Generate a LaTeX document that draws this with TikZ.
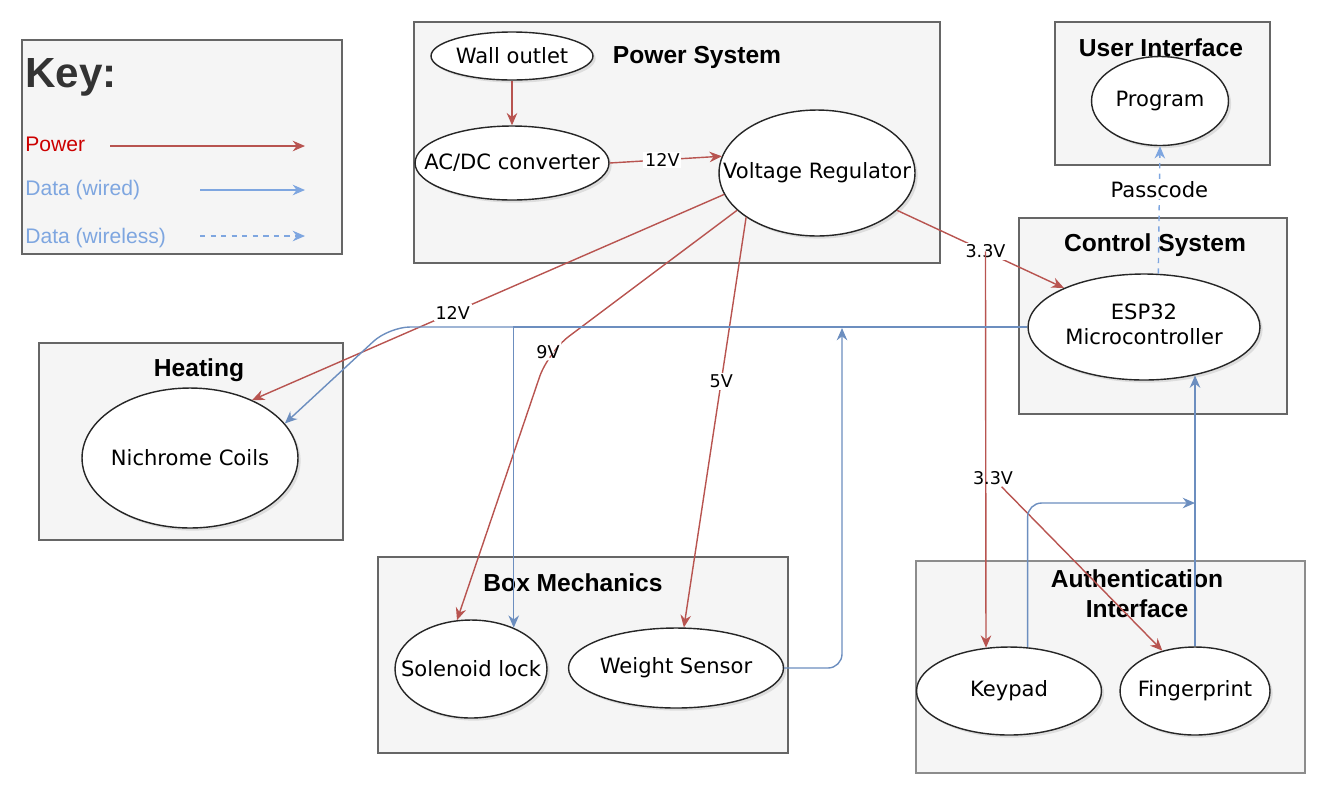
\documentclass[tikz,border=0pt]{standalone}
\usepackage{fontspec}
\setmainfont{Liberation Sans}
\newfontfamily\partfont{DejaVu Sans}
\usetikzlibrary{shapes.geometric,arrows.meta,shadows}

\definecolor{pwrred}{HTML}{B85450}
\definecolor{datablue}{HTML}{6C8EBF}
\definecolor{keyred}{HTML}{CC0000}
\definecolor{keyblue}{HTML}{7EA6E0}
\definecolor{keydark}{HTML}{333333}
\definecolor{grpfill}{HTML}{F5F5F5}
\definecolor{grpline}{HTML}{666666}

\newcommand{\ctext}[1]{\makebox[0pt]{#1}}

\tikzset{
  grp/.style={rectangle, draw=grpline, fill=grpfill, line width=0.8pt, inner sep=0pt},
  part/.style={ellipse, draw=black!85, fill=white, line width=0.8pt, inner sep=0pt,
    font=\partfont\fontsize{12}{14}\selectfont,
    drop shadow={opacity=0.2, shadow xshift=1.5pt, shadow yshift=-1.5pt}},
  title/.style={font=\bfseries\fontsize{14}{17}\selectfont, align=center, inner sep=0pt},
  keyitem/.style={anchor=west, inner sep=0pt, font=\fontsize{12}{14}\selectfont},
  pwr/.style={draw=pwrred, line width=0.8pt, -{Stealth[length=7pt,width=6pt]}},
  data/.style={draw=datablue, line width=0.8pt, -{Stealth[length=7pt,width=6pt]}},
  lbl/.style={font=\partfont\fontsize{10}{12}\selectfont, fill=white, inner sep=1pt},
}

\begin{document}
\begin{tikzpicture}[x=0.02cm, y=-0.02cm]
\useasboundingbox (0,0) rectangle (1337,802);

% group boxes
\node[grp, minimum width=6.4cm, minimum height=4.28cm] (keybox) at (182,147) {};
\node[grp, minimum width=10.52cm, minimum height=4.82cm] (pwrbox) at (677,142.5) {};
\node[grp, minimum width=4.3cm, minimum height=2.86cm] (uibox) at (1162.5,93.5) {};
\node[grp, minimum width=5.36cm, minimum height=3.92cm] (ctrlbox) at (1153,316) {};
\node[grp, minimum width=6.08cm, minimum height=3.94cm] (heatbox) at (191,441.5) {};
\node[grp, minimum width=8.2cm, minimum height=3.92cm] (mechbox) at (583,655) {};
\node[grp, draw=black!45, minimum width=7.78cm, minimum height=4.24cm] (authbox) at (1110.5,667) {};

% key
\node[anchor=west, inner sep=0pt, text=keydark, font=\bfseries\fontsize{24}{28}\selectfont] (keyttl) at (25,77) {Key:};
\node[keyitem, text=keyred] (kpow) at (25,144) {Power};
\node[keyitem, text=keyblue] (kwire) at (25,190) {Data (wired)};
\node[keyitem, text=keyblue] (kwless) at (25,238) {Data (wireless)};
\coordinate (kpow0) at (110,146);  \coordinate (kpow1) at (305,146);
\coordinate (kwire0) at (200,190); \coordinate (kwire1) at (305,190);
\coordinate (kwless0) at (200,236); \coordinate (kwless1) at (305,236);
\draw[pwr] (kpow0) -- (kpow1);
\draw[data, draw=keyblue] (kwire0) -- (kwire1);
\draw[data, draw=keyblue, dash pattern=on 3pt off 3pt] (kwless0) -- (kwless1);

% parts
\node[part, minimum width=3.24cm, minimum height=0.96cm] (outlet) at (512,56) {\ctext{Wall outlet}};
\node[part, minimum width=3.88cm, minimum height=1.48cm] (acdc) at (512,163) {\ctext{AC/DC converter}};
\node[part, minimum width=3.92cm, minimum height=2.52cm] (vreg) at (817,173) {\ctext{Voltage Regulator}};
\node[part, minimum width=2.74cm, minimum height=1.78cm] (prog) at (1160,101) {\ctext{Program}};
\node[part, minimum width=4.64cm, minimum height=2.12cm] (esp) at (1144,327) {\ctext{\begin{tabular}{@{}c@{}}ESP32\\Microcontroller\end{tabular}}};
\node[part, minimum width=4.32cm, minimum height=2.8cm] (nich) at (190,458) {\ctext{Nichrome Coils}};
\node[part, minimum width=3.04cm, minimum height=1.96cm] (sol) at (471,669) {\ctext{Solenoid lock}};
\node[part, minimum width=4.3cm, minimum height=1.6cm] (ws) at (676,668) {\ctext{Weight Sensor}};
\node[part, minimum width=3.7cm, minimum height=1.76cm] (kpd) at (1009,691) {\ctext{Keypad}};
\node[part, minimum width=3.0cm, minimum height=1.76cm] (fgp) at (1195,691) {\ctext{Fingerprint}};

% titles
\node[title] (pwrttl) at (697,57) {Power System};
\node[title] (uittl) at (1161,48) {User Interface};
\node[title] (ctrlttl) at (1155,245) {Control System};
\node[title] (heatttl) at (199,370) {Heating};
\node[title] (mechttl) at (573,583) {Box Mechanics};
\node[title] (authttl) at (1137,594) {Authentication\\Interface};

% power
\draw[pwr] (outlet) -- (acdc);
\draw[pwr] (acdc.east) -- node[lbl, pos=0.47] {12V} (vreg.170);
\draw[pwr] (vreg.193) -- node[lbl, pos=0.575] {12V} (nich.43);
\draw[pwr, rounded corners=15pt] (vreg.205) -- node[lbl, pos=1] {9V} (548,352) -- (sol.106);
\draw[pwr] (vreg.212) -- node[lbl, pos=0.4] {5V} (ws.79);
\draw[pwr] (vreg.335) -- node[lbl, pos=0.53] (v33) {3.3V} (esp.154);
\draw[pwr] (v33.center) -- (kpd.118);
\node[lbl, fill=none] (v33b) at (993,478) {3.3V};
\draw[pwr] (v33b) -- (fgp.129);

% data
\coordinate (wsjoin) at (842,328);
\coordinate (kpjoin) at (1195,503);
\draw[data, rounded corners=12pt] (esp.west) -- (389,327) -- (nich.20);
\draw[data] (esp.west) -| (sol.44);
\draw[data, rounded corners=8pt] (ws.east) -| (wsjoin);
\draw[data, rounded corners=8pt] (kpd.67) |- (kpjoin);
\draw[data] (fgp.north) -- (esp.-44 -| fgp.north);
\draw[data, draw=keyblue, dash pattern=on 3pt off 3pt] (esp.75) -- node[lbl, font=\partfont\fontsize{12}{14}\selectfont, pos=0.66] {Passcode} (prog.south);
\end{tikzpicture}
\end{document}
